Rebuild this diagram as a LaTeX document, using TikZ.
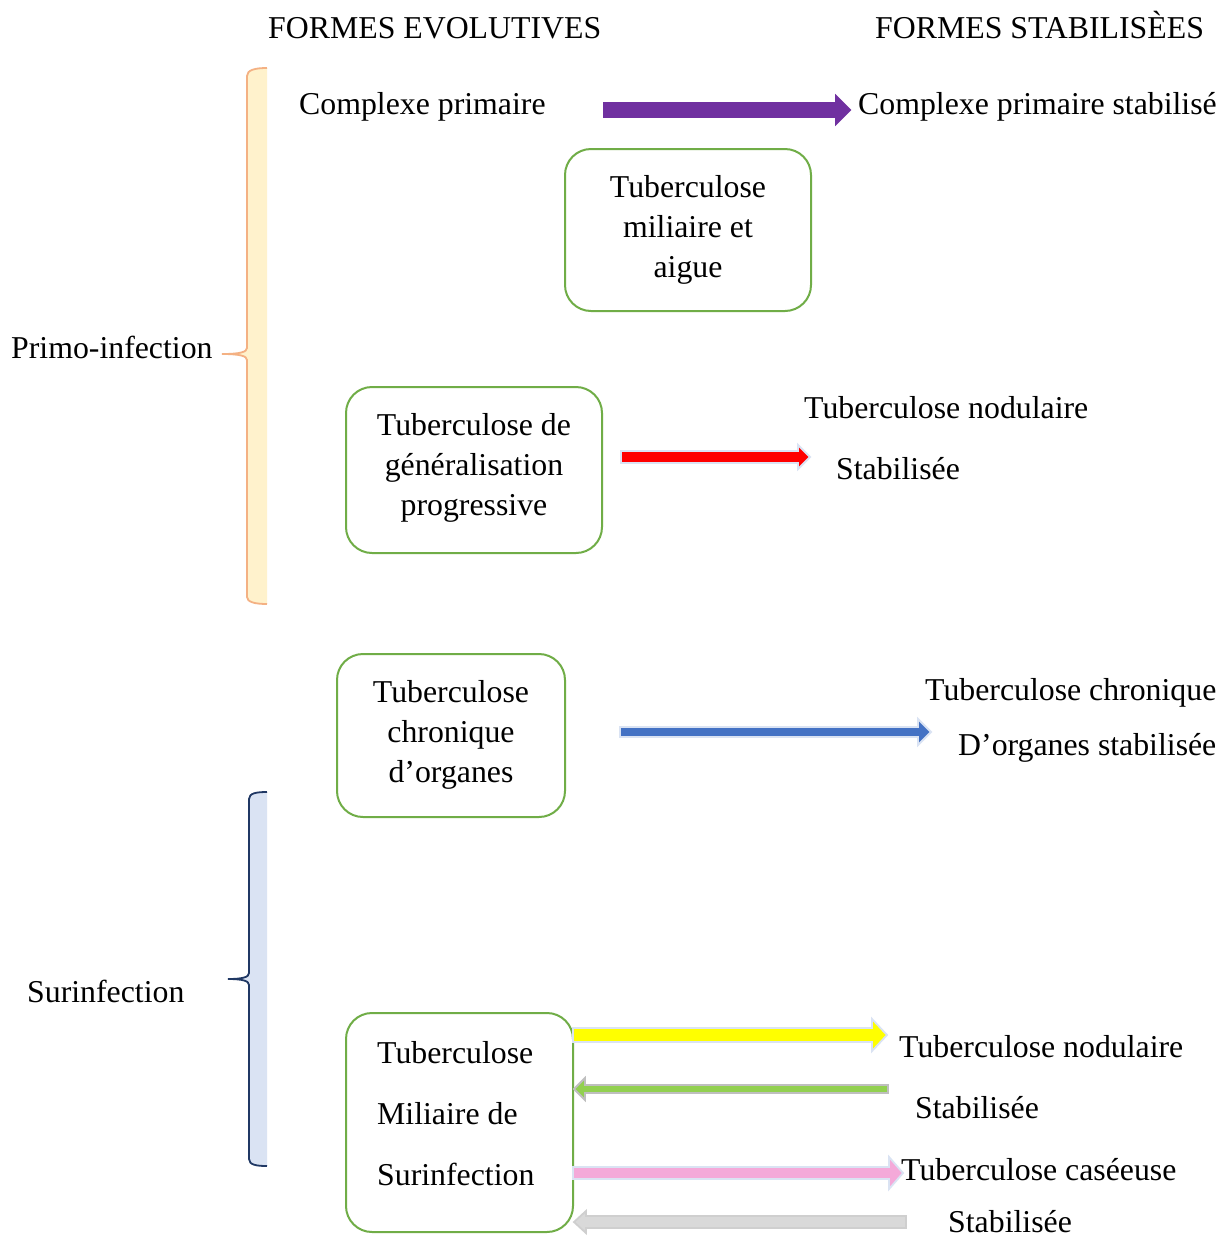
\documentclass[tikz,border=0pt]{standalone}
\usepackage{fontspec}
\setmainfont{Liberation Serif}
\definecolor{boxgreen}{HTML}{70AD47}
\definecolor{cpurple}{HTML}{7030A0}
\definecolor{cred}{HTML}{FF0000}
\definecolor{cblue}{HTML}{4472C4}
\definecolor{cyellow}{HTML}{FFFF00}
\definecolor{cgreen}{HTML}{92D050}
\definecolor{cpink}{HTML}{F4A9D9}
\definecolor{cgray}{HTML}{D9D9D9}
\definecolor{olight}{HTML}{DAE3F3}
\definecolor{ogray}{HTML}{BFBFBF}
\definecolor{ogray2}{HTML}{CFCFCF}
\definecolor{braceOfill}{HTML}{FFF2CC}
\definecolor{braceOline}{HTML}{F4B183}
\definecolor{braceBfill}{HTML}{DAE3F3}
\definecolor{braceBline}{HTML}{203864}
% #1 fill, #2 outline, #3 tail x, #4 tip x, #5 y, #6 shaft half, #7 head half, #8 signed head length
\newcommand\blockarrow[8]{%
  \filldraw[fill=#1,draw=#2,line width=1.8pt,line join=miter]
    ({#3},{#5-#6}) -- ({#4-(#8)},{#5-#6}) -- ({#4-(#8)},{#5-#7}) -- ({#4},{#5})
    -- ({#4-(#8)},{#5+#7}) -- ({#4-(#8)},{#5+#6}) -- ({#3},{#5+#6}) -- cycle;}
\tikzset{
  txt/.style={font=\fontsize{31.8}{40}\selectfont, inner sep=0pt, text=black},
  boxnode/.style={draw=boxgreen, line width=2pt, rounded corners=26pt, inner sep=0pt},
}
\begin{document}
\begin{tikzpicture}[x=1pt,y=-1pt]
\useasboundingbox (0,0) rectangle (1230,1240);
\fill[white] (0,0) rectangle (1230,1240);

% headers
\node[txt,anchor=base west] (h1) at (268,38) {FORMES EVOLUTIVES};
\node[txt,anchor=base west] (h2) at (875,38) {FORMES STABILISÈES};

% braces
\fill[braceOfill] (267,68) .. controls (255,68) and (247,70) .. (247,76) -- (247,348)
  .. controls (247,352) and (240,354) .. (222,354)
  .. controls (240,354) and (247,356) .. (247,360) -- (247,597)
  .. controls (247,602) and (255,604) .. (267,604) -- cycle;
\draw[braceOline,line width=1.8pt] (267,68) .. controls (255,68) and (247,70) .. (247,76) -- (247,348)
  .. controls (247,352) and (240,354) .. (222,354)
  .. controls (240,354) and (247,356) .. (247,360) -- (247,597)
  .. controls (247,602) and (255,604) .. (267,604);
\fill[braceBfill] (267,792) .. controls (257,792) and (249,793) .. (249,799) -- (249,973)
  .. controls (249,977) and (243,979) .. (228,979)
  .. controls (243,979) and (249,981) .. (249,985) -- (249,1159)
  .. controls (249,1165) and (257,1166) .. (267,1166) -- cycle;
\draw[braceBline,line width=1.8pt] (267,792) .. controls (257,792) and (249,793) .. (249,799) -- (249,973)
  .. controls (249,977) and (243,979) .. (228,979)
  .. controls (243,979) and (249,981) .. (249,985) -- (249,1159)
  .. controls (249,1165) and (257,1166) .. (267,1166);

% left labels
\node[txt,anchor=base west] (primo) at (11,358) {Primo-infection};
\node[txt,anchor=base west] (surinf) at (27,1002) {Surinfection};

% row 1
\node[txt,anchor=base west] (cp) at (299,114) {Complexe primaire};
\node[txt,anchor=base west] (cps) at (858,114) {Complexe primaire stabilisé};
\blockarrow{cpurple}{cpurple}{604}{850}{110}{7}{14}{14}

% box 1
\node[boxnode,minimum width=246pt,minimum height=162pt] (b1) at (688,230) {};
\node[txt,align=center] (b1t) at (688,229.6) {Tuberculose\\miliaire et\\aigue};

% box 2
\node[boxnode,minimum width=256pt,minimum height=166pt] (b2) at (474,470) {};
\node[txt,align=center] (b2t) at (474,467.6) {Tuberculose de\\généralisation\\progressive};
\blockarrow{cred}{olight}{621}{810}{457}{6}{12}{12}
\node[txt,anchor=base west] (tn1) at (804,418) {Tuberculose nodulaire};
\node[txt,anchor=base west] (st1) at (836,479) {Stabilisée};

% box 3
\node[boxnode,minimum width=228pt,minimum height=163pt] (b3) at (451,735.5) {};
\node[txt,align=center] (b3t) at (451,734.6) {Tuberculose\\chronique\\d’organes};
\blockarrow{cblue}{olight}{620}{931}{732}{5}{13}{13}
\node[txt,anchor=base west] (tc) at (925,700) {Tuberculose chronique};
\node[txt,anchor=base west] (dos) at (958,755) {D’organes stabilisée};

% box 4
\node[boxnode,minimum width=227pt,minimum height=219pt] (b4) at (459.5,1122.5) {};
\node[txt,align=left,anchor=west,font=\fontsize{31.8}{61}\selectfont] (b4t) at (377,1113.7) {Tuberculose\\Miliaire de\\Surinfection};

\blockarrow{cyellow}{olight}{573}{887}{1035}{7}{16}{15}
\blockarrow{cgreen}{ogray}{888}{574}{1089}{4}{11}{-11}
\blockarrow{cpink}{olight}{573}{903}{1173}{6}{16}{14}
\blockarrow{cgray}{ogray2}{906}{574}{1222}{6}{11}{-12}

\node[txt,anchor=base west] (tn2) at (899,1057) {Tuberculose nodulaire};
\node[txt,anchor=base west] (st2) at (915,1118) {Stabilisée};
\node[txt,anchor=base west] (tcas) at (901,1180) {Tuberculose caséeuse};
\node[txt,anchor=base west] (st3) at (948,1232) {Stabilisée};
\end{tikzpicture}
\end{document}
